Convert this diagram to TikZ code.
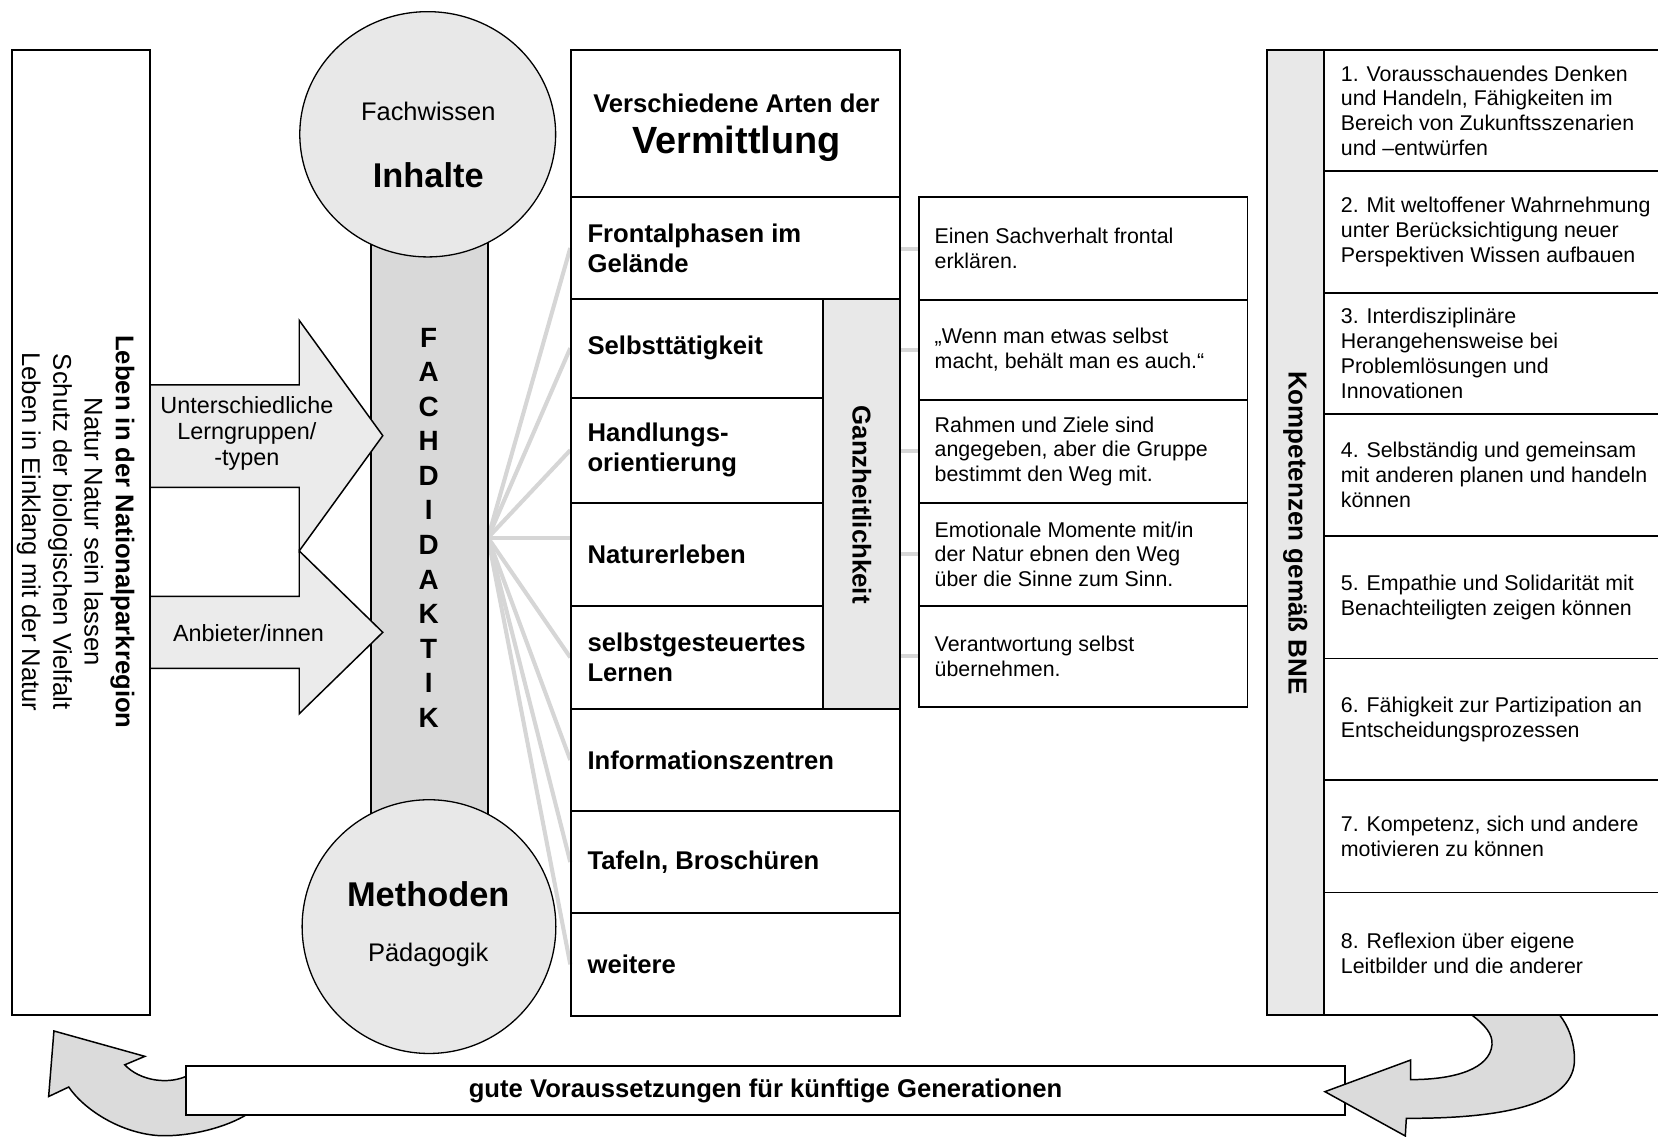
\documentclass[tikz,border=0pt]{standalone}
\usepackage{fontspec}
\setmainfont{Liberation Sans}
\usetikzlibrary{shapes.geometric, fit, backgrounds}

\begin{document}
\begin{tikzpicture}[x=0.02cm, y=-0.02cm,
    cell/.style={draw, line width=1pt, inner sep=0pt},
    shaded/.style={cell, fill=black!9},
    disc/.style={draw, ellipse, line width=0.7pt, fill=black!9, inner sep=0pt},
    lab/.style={anchor=west, align=left, inner sep=0pt, font=\fontsize{13.8}{16.2}\selectfont\bfseries},
    txt/.style={anchor=west, align=left, inner sep=0pt, font=\fontsize{11.5}{13.4}\selectfont},
    fanline/.style={line width=2.2pt, black!16},
    bigarr/.style={draw, line width=0.8pt, fill=black!8, line join=miter},
    blob/.style={draw, line width=0.8pt, fill=black!14}]
\useasboundingbox (0,0) rectangle (1568,1075);

\node[cell, fill=black!15, fit={(351,200) (461.5,800)}] (bar) {};
\draw[bigarr] (142,364) -- (283,364) -- (283,303) -- (362,412) -- (283,521) -- (283,461) -- (142,461) -- cycle;
\draw[bigarr] (142,564) -- (283,564) -- (283,521) -- (362,598) -- (283,675) -- (283,632) -- (142,632) -- cycle;
\node[cell, fit={(11,47.3) (142.2,960)}] (region) {};
\node[rotate=-90, align=center, font=\fontsize{13.8}{16.8}\selectfont] (regiontxt) at (71.5,503)
  {\textbf{Leben in der Nationalparkregion}\\Natur Natur sein lassen\\Schutz der biologischen Vielfalt\\Leben in Einklang mit der Natur};
\node[align=center, font=\fontsize{12.6}{13.9}\selectfont] (lerngruppen) at (233.5,410) {Unterschiedliche\\Lerngruppen/\\-typen};
\node[font=\fontsize{12.6}{13.9}\selectfont] (anbieter) at (235,598.6) {Anbieter/innen};

\node[disc, minimum width=4.84cm, minimum height=4.64cm] (inhalte) at (404.5,127) {};
\node[disc, minimum width=4.8cm, minimum height=4.8cm] (methoden) at (405.7,876.3) {};
\node[font=\fontsize{13.7}{16}\selectfont] (fachwissen) at (405,105.6) {Fachwissen};
\node[font=\fontsize{18.5}{22}\selectfont\bfseries] (inhaltetxt) at (405,165.5) {Inhalte};
\node[font=\fontsize{18.5}{22}\selectfont\bfseries] (methodentxt) at (405,845.4) {Methoden};
\node[font=\fontsize{13.7}{16}\selectfont] (paedagogik) at (405,903) {Pädagogik};
\node[align=center, font=\fontsize{15}{18.6}\selectfont\bfseries] (fachdidaktik) at (405.4,499)
  {F\\A\\C\\H\\D\\I\\D\\A\\K\\T\\I\\K};

\node[cell, fit={(540.2,47.3) (851.3,186.6)}] (head) {};
\node[font=\fontsize{13.8}{16}\selectfont\bfseries] (headtop) at (696.5,97.7) {Verschiedene Arten der};
\node[font=\fontsize{20.4}{24}\selectfont\bfseries] (headbig) at (696.5,136) {Vermittlung};
\node[cell, fit={(540.2,186.6) (851.3,282.5)}] (front) {};
\node[cell, fit={(540.2,282.5) (778.7,376)}] (selbst) {};
\node[cell, fit={(540.2,376) (778.7,475.5)}] (handl) {};
\node[cell, fit={(540.2,475.5) (778.7,572.9)}] (natur) {};
\node[cell, fit={(540.2,572.9) (778.7,670.5)}] (lernen) {};
\node[shaded, fit={(778.7,282.5) (851.3,670.5)}] (ganz) {};
\node[cell, fit={(540.2,670.5) (851.3,766.9)}] (info) {};
\node[cell, fit={(540.2,766.9) (851.3,863.5)}] (tafeln) {};
\node[cell, fit={(540.2,863.5) (851.3,960.5)}] (weitere) {};
\node[lab] (frontlab) at ([xshift=0.32cm]front.west) {Frontalphasen im\\Gelände};
\node[lab] (selbstlab) at ([xshift=0.32cm]selbst.west) {Selbsttätigkeit};
\node[lab] (handllab) at ([xshift=0.32cm]handl.west) {Handlungs-\\orientierung};
\node[lab] (naturlab) at ([xshift=0.32cm]natur.west) {Naturerleben};
\node[lab] (lernenlab) at ([xshift=0.32cm]lernen.west) {selbstgesteuertes\\Lernen};
\node[lab] (infolab) at ([xshift=0.32cm]info.west) {Informationszentren};
\node[lab] (tafelnlab) at ([xshift=0.32cm]tafeln.west) {Tafeln, Broschüren};
\node[lab] (weiterelab) at ([xshift=0.32cm]weitere.west) {weitere};
\node[rotate=-90, font=\fontsize{13.9}{16}\selectfont\bfseries] (ganztxt) at (815,477.3) {Ganzheitlichkeit};

\node[cell, fit={(869.5,186.6) (1179.8,283.7)}] (d1) {};
\node[cell, fit={(869.5,283.7) (1179.8,378.3)}] (d2) {};
\node[cell, fit={(869.5,378.3) (1179.8,475.5)}] (d3) {};
\node[cell, fit={(869.5,475.5) (1179.8,572.9)}] (d4) {};
\node[cell, fit={(869.5,572.9) (1179.8,668.7)}] (d5) {};
\node[txt] (d1txt) at ([xshift=0.3cm]d1.west) {Einen Sachverhalt frontal\\erklären.};
\node[txt] (d2txt) at ([xshift=0.3cm]d2.west) {„Wenn man etwas selbst\\macht, behält man es auch.“};
\node[txt] (d3txt) at ([xshift=0.3cm]d3.west) {Rahmen und Ziele sind\\angegeben, aber die Gruppe\\bestimmt den Weg mit.};
\node[txt] (d4txt) at ([xshift=0.3cm]d4.west) {Emotionale Momente mit/in\\der Natur ebnen den Weg\\über die Sinne zum Sinn.};
\node[txt] (d5txt) at ([xshift=0.3cm]d5.west) {Verantwortung selbst\\übernehmen.};

\node[shaded, fit={(1198,47.4) (1252.1,960)}] (bne) {};
\node[rotate=-90, font=\fontsize{14}{16}\selectfont\bfseries] (bnetxt) at (1225,504) {Kompetenzen gemäß BNE};
\node[cell, fit={(1252.1,47.4) (1580,162)}] (k1) {};
\node[cell, fit={(1252.1,162) (1580,277)}] (k2) {};
\node[cell, fit={(1252.1,277) (1580,391.6)}] (k3) {};
\node[cell, fit={(1252.1,391.6) (1580,506.7)}] (k4) {};
\node[cell, fit={(1252.1,506.7) (1580,622.8)}] (k5) {};
\node[cell, fit={(1252.1,622.8) (1580,737.7)}] (k6) {};
\node[cell, fit={(1252.1,737.7) (1580,844)}] (k7) {};
\node[cell, fit={(1252.1,844) (1580,960)}] (k8) {};
\node[txt] (k1txt) at ([xshift=0.33cm]k1.west) {1. Vorausschauendes Denken\\und Handeln, Fähigkeiten im\\Bereich von Zukunftsszenarien\\und –entwürfen};
\node[txt] (k2txt) at ([xshift=0.33cm]k2.west) {2. Mit weltoffener Wahrnehmung\\unter Berücksichtigung neuer\\Perspektiven Wissen aufbauen};
\node[txt] (k3txt) at ([xshift=0.33cm]k3.west) {3. Interdisziplinäre\\Herangehensweise bei\\Problemlösungen und\\Innovationen};
\node[txt] (k4txt) at ([xshift=0.33cm]k4.west) {4. Selbständig und gemeinsam\\mit anderen planen und handeln\\können};
\node[txt] (k5txt) at ([xshift=0.33cm]k5.west) {5. Empathie und Solidarität mit\\Benachteiligten zeigen können};
\node[txt] (k6txt) at ([xshift=0.33cm]k6.west) {6. Fähigkeit zur Partizipation an\\Entscheidungsprozessen};
\node[txt] (k7txt) at ([xshift=0.33cm]k7.west) {7. Kompetenz, sich und andere\\motivieren zu können};
\node[txt] (k8txt) at ([xshift=0.33cm]k8.west) {8. Reflexion über eigene\\Leitbilder und die anderer};

\draw[blob] (180,1016) .. controls (160,1027) and (132,1022) .. (118,1007) -- (137,999) -- (51,975) -- (46,1037) -- (65,1028)
  .. controls (80,1050) and (115,1072) .. (151,1074) .. controls (180,1075) and (215,1066) .. (235,1053) -- (235,1030) -- cycle;
\node[cell, line width=1.3pt, fill=white, fit={(176,1008.1) (1272,1054.5)}] (banner) {};
\node[font=\fontsize{13.8}{16}\selectfont\bfseries] (bannertxt) at (banner.center) {gute Voraussetzungen für künftige Generationen};
\draw[blob] (1392,960) .. controls (1404,969) and (1412,978) .. (1411,988) .. controls (1409,1010) and (1378,1021) .. (1334,1021)
  -- (1334,1002.5) -- (1253,1032.4) -- (1329,1074.3) -- (1330,1057.6)
  .. controls (1435,1058) and (1489,1040) .. (1489,1002) .. controls (1489,985) and (1483,970) .. (1475,960) -- cycle;

\begin{scope}[on background layer]
\coordinate (fan) at (461.5,508.5);
\foreach \r in {front,selbst,handl,lernen,info,tafeln,weitere}
  \draw[fanline] (fan) -- (\r.west);
\draw[fanline] (fan) -- (natur.west |- fan);
\foreach \d in {d1,d2,d3,d4,d5}
  \draw[fanline] (\d.west) -- (\d.west -| ganz.east);
\end{scope}
\end{tikzpicture}
\end{document}
